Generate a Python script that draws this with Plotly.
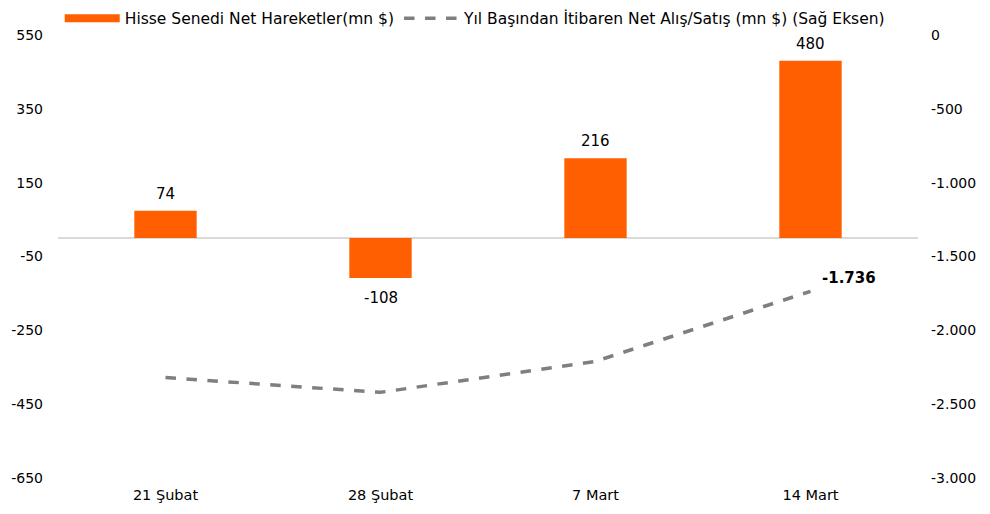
import plotly.graph_objects as go

categories = ["21 Şubat", "28 Şubat", "7 Mart", "14 Mart"]
net_moves = [74, -108, 216, 480]
ytd_net = [-2320, -2420, -2210, -1736]
left_ticks = [-650, -450, -250, -50, 150, 350, 550]
right_ticks = [-3000, -2500, -2000, -1500, -1000, -500, 0]

def tr(v):
    s = f"{abs(v):,}".replace(",", ".")
    return ("-" if v < 0 else "") + s

FONT = "DejaVu Sans"
ORANGE = "#FF5F00"

fig = go.Figure()
fig.add_trace(go.Bar(
    x=categories, y=net_moves, name="Hisse Senedi Net Hareketler(mn $)",
    marker=dict(color=ORANGE, line=dict(width=0)), width=0.29, showlegend=False,
))
# legend entry with wide swatch for the bars
fig.add_trace(go.Scatter(
    x=[None], y=[None], mode="lines", name="Hisse Senedi Net Hareketler(mn $)",
    line=dict(color=ORANGE, width=8),
))
fig.add_trace(go.Scatter(
    x=categories, y=ytd_net, yaxis="y2", mode="lines",
    name="Yıl Başından İtibaren Net Alış/Satış (mn $) (Sağ Eksen)",
    line=dict(color="#7F7F7F", width=3.5, dash="dash"),
))

# bar value labels
for c, v in zip(categories, net_moves):
    fig.add_annotation(x=c, y=v, xref="x", yref="y", text=tr(v), showarrow=False,
                       yanchor="bottom" if v >= 0 else "top",
                       yshift=6 if v >= 0 else -9,
                       font=dict(size=15, color="#000", family=FONT))
# last value of the cumulative line
fig.add_annotation(x=categories[-1], y=ytd_net[-1], xref="x", yref="y2",
                   text="<b>" + tr(ytd_net[-1]) + "</b>", showarrow=False,
                   xanchor="left", yanchor="bottom", xshift=9, yshift=2,
                   font=dict(size=15, color="#000", family=FONT))

fig.update_layout(
    width=990, height=514, plot_bgcolor="white", paper_bgcolor="white",
    margin=dict(l=50, r=80, t=27, b=44, autoexpand=False),
    font=dict(family=FONT, size=14, color="#000"),
    showlegend=True,
    legend=dict(orientation="h", x=0.002, y=1.075, yanchor="top", xanchor="left",
                font=dict(size=15.5, family=FONT, color="#000"), itemwidth=55,
                traceorder="normal"),
    xaxis=dict(showgrid=False, showline=False, ticks="", tickfont=dict(size=14.5),
               ticklabelstandoff=6),
    yaxis=dict(range=[-650, 550], tickvals=left_ticks, ticktext=[tr(v) for v in left_ticks],
               showgrid=False, showline=False, zeroline=True, zerolinecolor="#D9D9D9",
               zerolinewidth=1.5, ticks="", tickfont=dict(size=14), ticklabelstandoff=14),
    yaxis2=dict(range=[-3000, 0], tickvals=right_ticks, ticktext=[tr(v) for v in right_ticks],
                overlaying="y", side="right", showgrid=False, showline=False, zeroline=False,
                ticks="", tickfont=dict(size=14), ticklabelstandoff=12),
)
fig.write_html("out.html")
